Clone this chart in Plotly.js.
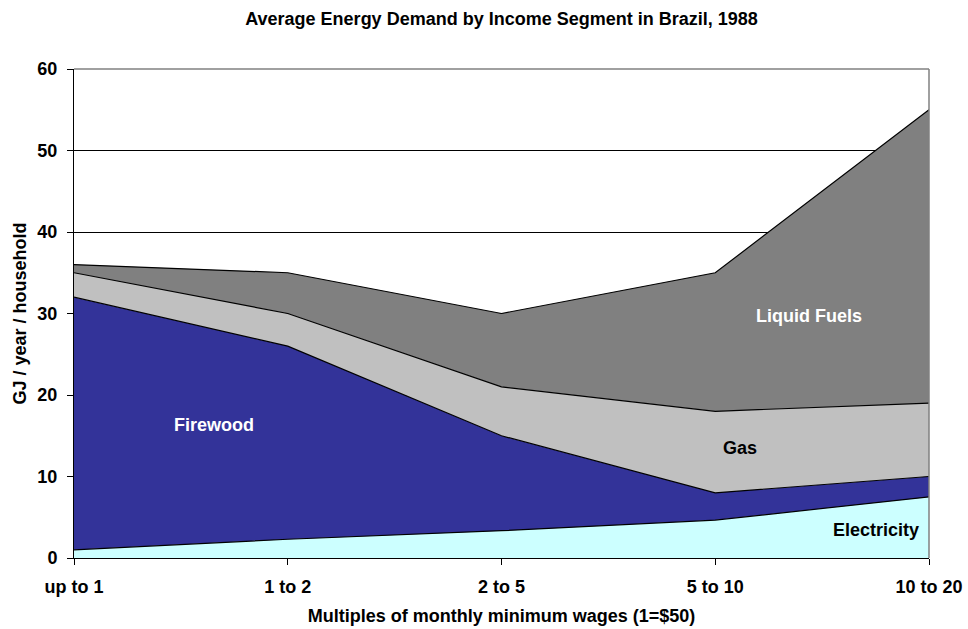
<!DOCTYPE html>
<html>
<head>
<meta charset="utf-8">
<script src="https://cdn.plot.ly/plotly-3.0.1.min.js"></script>
<style>html,body{margin:0;padding:0;background:#fff;}#chart{width:968px;height:629px;}</style>
</head>
<body>
<div id="chart"></div>
<script>
const categories = ["up to 1", "1 to 2", "2 to 5", "5 to 10", "10 to 20"];
const electricity = [1.0, 2.3, 3.35, 4.65, 7.5];
const firewood = [31.0, 23.7, 11.65, 3.35, 2.5];
const gas = [3.0, 4.0, 6.0, 10.0, 9.0];
const liquidFuels = [1.0, 5.0, 9.0, 17.0, 36.0];
const yTicks = [0, 10, 20, 30, 40, 50, 60];

const FONT = "Liberation Sans, Arial, sans-serif";

function area(name, vals, fill) {
  return {
    type: "scatter", mode: "lines", name: name, x: categories, y: vals,
    stackgroup: "one", fillcolor: fill,
    line: {color: "#000000", width: 1.2}, hoverinfo: "x+y+name"
  };
}

const data = [
  area("Electricity", electricity, "#CCFFFF"),
  area("Firewood", firewood, "#333399"),
  area("Gas", gas, "#C0C0C0"),
  area("Liquid Fuels", liquidFuels, "#808080")
];

const layout = {
  width: 968, height: 629,
  margin: {l: 74, r: 39, t: 69, b: 71, pad: 0},
  paper_bgcolor: "#ffffff", plot_bgcolor: "#ffffff",
  showlegend: false,
  font: {family: FONT, size: 18, color: "#000000"},
  title: {text: "<b>Average Energy Demand by Income Segment in Brazil, 1988</b>",
          x: 0.5, xref: "paper", y: 0.971, yref: "container", yanchor: "middle",
          font: {family: FONT, size: 18, color: "#000"}},
  xaxis: {
    type: "category", range: [0, 4],
    showgrid: false, zeroline: false,
    showline: true, linecolor: "#000", linewidth: 1,
    ticks: "outside", ticklen: 6, tickcolor: "#000", tickwidth: 1,
    tickfont: {family: FONT, size: 18, weight: "bold"},
    ticklabelstandoff: 6,
    title: {text: "<b>Multiples of monthly minimum wages (1=$50)</b>", standoff: 13,
            font: {family: FONT, size: 18}}
  },
  yaxis: {
    range: [0, 60], tickvals: yTicks, ticktext: yTicks.map(String),
    showgrid: true, gridcolor: "#000", gridwidth: 1, zeroline: false,
    showline: true, linecolor: "#000", linewidth: 1,
    ticks: "outside", ticklen: 6, tickcolor: "#000", tickwidth: 1,
    tickfont: {family: FONT, size: 18, weight: "bold"},
    ticklabelstandoff: 6,
    title: {text: "<b>GJ / year / household</b>", standoff: 6,
            font: {family: FONT, size: 18}}
  },
  shapes: [
    {type: "line", xref: "paper", yref: "paper", x0: 0, x1: 1, y0: 1, y1: 1,
     line: {color: "#808080", width: 1.5}, layer: "above"},
    {type: "line", xref: "paper", yref: "paper", x0: 1, x1: 1, y0: 0, y1: 1,
     line: {color: "#808080", width: 1.5}, layer: "above"}
  ],
  annotations: [
    {x: 0.654, y: 16.3, xref: "x", yref: "y", text: "<b>Firewood</b>", showarrow: false,
     font: {family: FONT, size: 18, color: "#ffffff"}},
    {x: 3.44, y: 29.75, xref: "x", yref: "y", text: "<b>Liquid Fuels</b>", showarrow: false,
     font: {family: FONT, size: 18, color: "#ffffff"}},
    {x: 3.117, y: 13.5, xref: "x", yref: "y", text: "<b>Gas</b>", showarrow: false,
     font: {family: FONT, size: 18, color: "#000000"}},
    {x: 3.75, y: 3.43, xref: "x", yref: "y", text: "<b>Electricity</b>", showarrow: false,
     font: {family: FONT, size: 18, color: "#000000"}}
  ]
};

Plotly.newPlot("chart", data, layout, {displayModeBar: false, staticPlot: true});
</script>
</body>
</html>
